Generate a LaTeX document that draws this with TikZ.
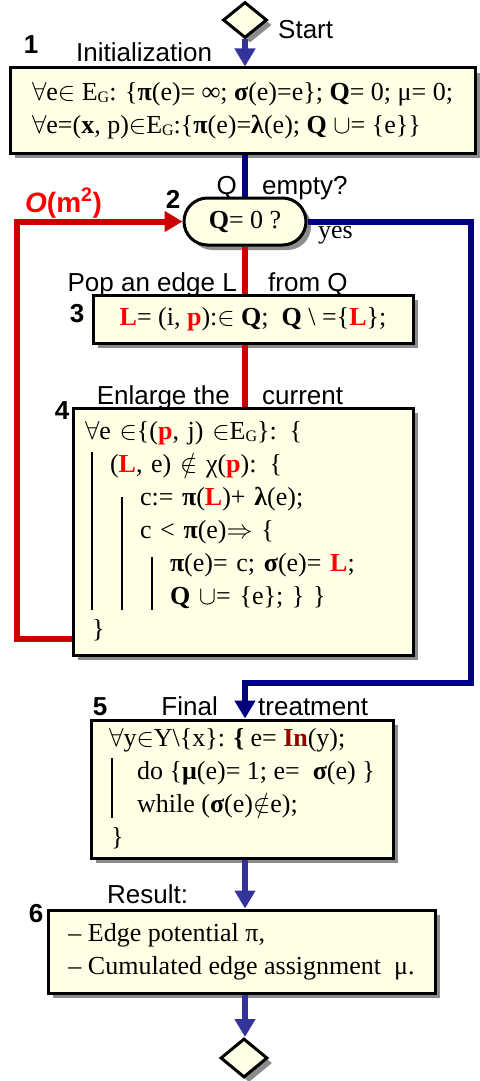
\RequirePackage{fix-cm}
\documentclass[tikz,border=0pt]{standalone}
\usepackage{fontspec}
\setmainfont{Liberation Serif}
\setsansfont{Liberation Sans}
\usepackage{tikz}
\usetikzlibrary{arrows.meta,positioning,shapes.geometric,shapes.misc,shadows}

\definecolor{boxfill}{HTML}{FFFFE5}
\definecolor{arrblue}{HTML}{333399}
\definecolor{navy}{HTML}{000080}
\definecolor{loopred}{HTML}{CC0000}
\definecolor{hired}{HTML}{FF0000}
\definecolor{darkred}{HTML}{990000}

\newcommand{\EG}{E\raisebox{-2pt}{\fontsize{16}{16}\selectfont G}}
\newcommand{\rd}[1]{\textcolor{hired}{\textbf{#1}}}

\begin{document}
\begin{tikzpicture}[
          x=1pt, y=-1pt,
          box/.style={rectangle, draw, line width=3pt, fill=boxfill, align=left,
                      font=\fontsize{26}{33}\selectfont, inner sep=0pt,
                      drop shadow={shadow xshift=5pt, shadow yshift=-5pt,
                                   fill=black!45, opacity=1}},
          term/.style={diamond, draw, line width=3pt, fill=boxfill, inner sep=0pt,
                       drop shadow={shadow xshift=5pt, shadow yshift=-5pt,
                                    fill=black!45, opacity=1}},
          lbl/.style={font=\sffamily\fontsize{26}{26}\selectfont, inner sep=0pt},
          num/.style={font=\sffamily\bfseries\fontsize{26}{26}\selectfont, inner sep=0pt},
          flow/.style={line width=6pt},
          tip/.style={-{Triangle[width=20pt,length=18pt]}},
          bar/.style={line width=1.5pt}
        ]
        \useasboundingbox (0,0) rectangle (479,1081);

        % boxes
        \node[term, minimum width=44pt, minimum height=36pt] (start) at (245,20) {};
        \node[box, minimum width=465pt, minimum height=85pt] (init) at (242.5,110.5)
          {$\forall$e$\in$ \EG: \{\textbf{π}(e)= \textbf{∞}; \textbf{σ}(e)=e\}; \textbf{Q}= 0; μ= 0;\\
           $\forall$e=(\textbf{x}, p)$\in$\EG:\{\textbf{π}(e)=\textbf{λ}(e); \textbf{Q} $\cup$= \{e\}\}};
        \node[box, rounded rectangle, align=center, minimum width=122pt, minimum height=47pt] (q0) at (245,221.5)
          {\textbf{Q}= 0 ?};
        \node[box, align=center, minimum width=320pt, minimum height=48pt] (pop) at (253,319)
          {\rd{L}= (i, \rd{p}):$\in$ \textbf{Q};\ \ \textbf{Q} \textbackslash\ =\{\rd{L}\};};
        \node[box, text width=316pt, inner xsep=12pt, minimum height=247pt] (enl) at (243,531.5)
          {$\forall$e $\in$\{(\rd{p}, j) $\in$\EG\}: \{\\
           \hspace*{25pt}(\rd{L}, e) $\notin$ χ(\rd{p}): \{\\
           \hspace*{55pt}c:= \textbf{π}(\rd{L})+ \textbf{λ}(e);\\
           \hspace*{55pt}c < \textbf{π}(e)$\Rightarrow$ \{\\
           \hspace*{85pt}\textbf{π}(e)= c; \textbf{σ}(e)= \rd{L};\\
           \hspace*{85pt}\textbf{Q} $\cup$= \{e\}; \} \}\\
           \hspace*{7pt}\}};
        \node[box, minimum width=302pt, minimum height=138pt] (fin) at (242,789)
          {$\forall$y$\in$Y\textbackslash\{x\}: \textbf{\{} e= \textcolor{darkred}{\textbf{In}}(y);\\
           \hspace*{28pt}do \{\textbf{μ}(e)= 1; e=\ \ \textbf{σ}(e) \}\\
           \hspace*{28pt}while (\textbf{σ}(e)$\notin$e);\\
           \hspace*{2pt}\}};
        \node[box, minimum width=387pt, minimum height=83pt] (res) at (241.5,951.5)
          {– Edge potential π,\\
           – Cumulated edge assignment\ \ μ.};
        \node[term, minimum width=47pt, minimum height=39pt] (stop) at (244,1058) {};

        % labels
        \node[lbl, anchor=base west] (tstart) at (278,38) {Start};
        \node[num, anchor=base] (n1) at (31,53) {1};
        \node[lbl, anchor=base west] (tinit) at (76,62) {Initialization};
        \node[lbl, anchor=base east] (tq) at (237,194) {Q};
        \node[lbl, anchor=base west] (tempty) at (262,194) {empty?};
        \node[num, anchor=base] (n2) at (173,208) {2};
        \node[lbl, anchor=base west, text=hired, font=\sffamily\bfseries\fontsize{28}{28}\selectfont] (tcost) at (25,212)
          {\textit{O}(m\textsuperscript{2})};
        \node[anchor=base west, inner sep=0pt, font=\fontsize{26}{26}\selectfont] (tyes) at (318,238) {yes};
        \node[lbl, anchor=base east] (tpop) at (237,291) {Pop an edge L};
        \node[lbl, anchor=base west] (tfrom) at (268,291) {from Q};
        \node[num, anchor=base] (n3) at (77,322) {3};
        \node[lbl, anchor=base east] (tenl) at (230,404) {Enlarge the};
        \node[lbl, anchor=base west] (tcur) at (262,404) {current};
        \node[num, anchor=base] (n4) at (62,419) {4};
        \node[num, anchor=base] (n5) at (100,715) {5};
        \node[lbl, anchor=base east] (tfinal) at (218,715) {Final};
        \node[lbl, anchor=base west] (ttreat) at (258,715) {treatment};
        \node[lbl, anchor=base west] (tres) at (107,903) {Result:};
        \node[num, anchor=base] (n6) at (36,922) {6};

        % block bars
        \draw[bar] (92,452) -- (92,610);
        \draw[bar] (122,497) -- (122,610);
        \draw[bar] (152,557) -- (152,610);
        \draw[bar] (112,758) -- (112,818);

        % connectors
        \coordinate (yb) at (471,683);
        \draw[flow, draw=arrblue, tip] (start.south) -- (start.south |- init.north);
        \draw[flow, draw=navy] (start.south |- init.south) -- (q0.north);
        \draw[flow, draw=loopred] (q0.south) -- (q0.south |- pop.north);
        \draw[flow, draw=loopred] (q0.south |- pop.south) -- (q0.south |- enl.north);
        \draw[flow, draw=loopred, tip] ([yshift=18pt]enl.south west) -- ++(-55,0) |- (q0.west);
        \draw[flow, draw=navy, tip] (q0.east) -| (yb) -- (yb -| start.south) -- (start.south |- fin.north);
        \draw[flow, draw=arrblue, tip] (start.south |- fin.south) -- (start.south |- res.north);
        \draw[flow, draw=arrblue, tip] (start.south |- res.south) -- (start.south |- stop.north);
      \end{tikzpicture}
\end{document}
